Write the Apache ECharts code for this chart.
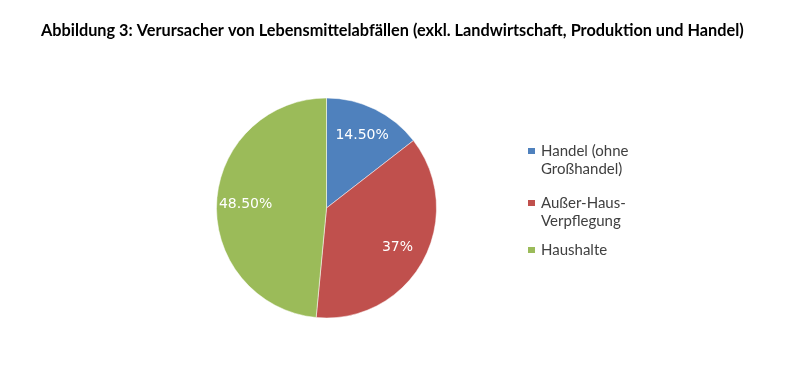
<!DOCTYPE html>
<html>
<head>
<meta charset="utf-8">
<script src="https://cdn.jsdelivr.net/npm/echarts@6/dist/echarts.min.js"></script>
<style>
html,body{margin:0;padding:0;background:#fff;}
#chart{width:800px;height:368px;}
</style>
</head>
<body>
<div id="chart"></div>
<script>
const titleText = 'Abbildung 3: Verursacher von Lebensmittelabfällen (exkl. Landwirtschaft, Produktion und Handel)';
const categories = ['Handel (ohne\nGroßhandel)', 'Außer-Haus-\nVerpflegung', 'Haushalte'];
const values = [14.5, 37, 48.5];
const colors = ['#4F81BD', '#C0504D', '#9BBB59'];

function fmt(v) {
  return (Number.isInteger(v) ? String(v) : v.toFixed(2)) + '%';
}

const pieData = categories.map((c, i) => ({ name: c, value: values[i], itemStyle: { color: colors[i] } }));
const labelData = categories.map((c, i) => ({ name: c, value: values[i] }));

const legendText = { fontFamily: 'Lato', fontSize: 15, color: '#404040', lineHeight: 18.5 };
// square icon at the top of a two-line legend item
const topSquare = 'path://M0,5.25L9,5.25L9,13.25L0,13.25Z M0,0 M9,37';

const chart = echarts.init(document.getElementById('chart'), null, { renderer: 'canvas' });
chart.setOption({
  animation: false,
  backgroundColor: '#ffffff',
  title: {
    text: titleText,
    left: 36,
    top: 18,
    textStyle: { fontFamily: 'Lato', fontWeight: 'bold', fontSize: 16.3, color: '#000' }
  },
  legend: [
    {
      orient: 'vertical',
      left: 526,
      top: 140.75,
      padding: 0,
      itemWidth: 9,
      itemHeight: 37,
      itemGap: 13,
      data: categories.slice(0, 2).map(n => ({ name: n, icon: topSquare })),
      textStyle: legendText
    },
    {
      orient: 'vertical',
      left: 526,
      top: 240.75,
      padding: 0,
      icon: 'rect',
      itemWidth: 9,
      itemHeight: 8,
      data: categories.slice(2),
      textStyle: legendText
    }
  ],
  series: [
    {
      type: 'pie',
      center: [326.5, 208],
      radius: [0, 110],
      startAngle: 90,
      clockwise: true,
      data: pieData,
      label: { show: false },
      labelLine: { show: false },
      itemStyle: { borderColor: '#ffffff', borderWidth: 0.5 },
      emphasis: { disabled: true }
    },
    {
      type: 'pie',
      center: [326.5, 208],
      radius: [46, 110],
      startAngle: 90,
      clockwise: true,
      data: labelData,
      silent: true,
      itemStyle: { color: 'rgba(0,0,0,0)' },
      label: {
        show: true,
        position: 'inside',
        formatter: p => fmt(p.value),
        color: '#ffffff',
        fontFamily: 'DejaVu Sans',
        fontSize: 14
      },
      labelLine: { show: false },
      emphasis: { disabled: true }
    }
  ]
});
</script>
</body>
</html>
